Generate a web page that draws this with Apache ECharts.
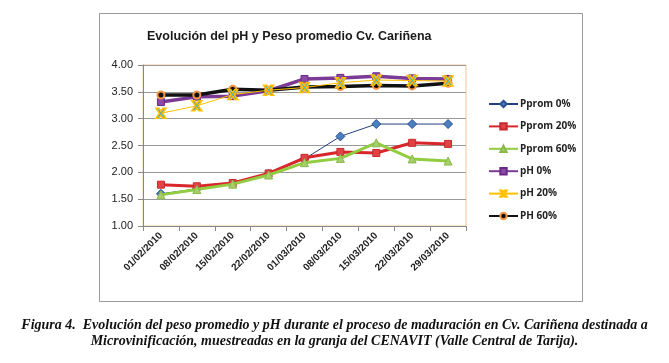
<!DOCTYPE html>
<html><head><meta charset="utf-8">
<script src="https://cdn.jsdelivr.net/npm/echarts@6/dist/echarts.min.js"></script>
<style>html,body{margin:0;padding:0;background:#fff}#c{width:669px;height:363px}</style>
</head><body><div id="c"></div>
<script>
const categories = ['01/02/2010','08/02/2010','15/02/2010','22/02/2010','01/03/2010','08/03/2010','15/03/2010','22/03/2010','29/03/2010'];
const pprom0  = [1.60, 1.69, 1.79, 1.97, 2.25, 2.67, 2.90, 2.90, 2.90];
const pprom20 = [1.77, 1.74, 1.80, 1.98, 2.27, 2.38, 2.36, 2.55, 2.53];
const pprom60 = [1.58, 1.68, 1.78, 1.95, 2.18, 2.26, 2.55, 2.25, 2.21];
const ph0     = [3.31, 3.41, 3.42, 3.52, 3.74, 3.76, 3.79, 3.75, 3.74];
const ph20    = [3.10, 3.24, 3.45, 3.53, 3.58, 3.67, 3.72, 3.71, 3.70];
const ph60    = [3.44, 3.44, 3.55, 3.53, 3.59, 3.60, 3.62, 3.61, 3.66];
const yTicks = { min: 1.0, max: 4.0, interval: 0.5 };
const titleText = 'Evolución del pH y Peso promedio Cv. Cariñena';
const captionLines = ['Figura 4.  Evolución del peso promedio y pH durante el proceso de maduración en Cv. Cariñena destinada a',
                      'Microvinificación, muestreadas en la granja del CENAVIT (Valle Central de Tarija).'];

const chart = echarts.init(document.getElementById('c'), null, {renderer:'canvas'});
const xPath = 'path://M0,0 L3,0 L5,3 L7,0 L10,0 L6.5,5 L10,10 L7,10 L5,7 L3,10 L0,10 L3.5,5 Z';
function s(name, data, lineColor, width, symbol, size, fill, border, bw, z) {
  return { name, type:'line', data, symbol, symbolSize:size, z,
    lineStyle:{color:lineColor, width},
    itemStyle:{color:fill, borderColor:border, borderWidth:bw},
    emphasis:{disabled:true}, animation:false };
}
chart.setOption({
  animation:false,
  title:{ text:titleText, left:142, top:25, textStyle:{fontFamily:'Liberation Sans', fontWeight:'bold', fontSize:12.5, color:'#1a1a1a'} },
  grid:{ left:143, top:65, right:203, bottom:137, show:true, borderColor:'#f0c890', borderWidth:1, backgroundColor:'transparent' },
  legend:{ orient:'vertical', left:483, top:93, itemGap:10.4, itemWidth:29, itemHeight:8,
    textStyle:{fontFamily:'Open Sans', fontWeight:'bold', fontSize:10, color:'#222', lineHeight:12, padding:[0,0,0,-3]},
    data:['Pprom 0%','Pprom 20%','Pprom 60%','pH 0%','pH 20%','PH 60%'] },
  xAxis:{ type:'category', data:categories, boundaryGap:true,
    axisLine:{lineStyle:{color:'#888'}}, axisTick:{show:true, length:5, lineStyle:{color:'#888'}},
    axisLabel:{rotate:45, interval:0, fontFamily:'Liberation Sans', fontSize:10, fontWeight:'bold', color:'#222', margin:8} },
  yAxis:{ type:'value', min:yTicks.min, max:yTicks.max, interval:yTicks.interval,
    axisLine:{show:true, lineStyle:{color:'#888'}}, axisTick:{show:true, length:5, lineStyle:{color:'#888'}},
    splitLine:{lineStyle:{color:'#999', width:1}},
    axisLabel:{formatter:v=>v.toFixed(2), fontFamily:'Liberation Sans', fontSize:11, color:'#222', margin:10} },
  series:[
    s('Pprom 0%', pprom0, '#243f7f', 1, 'diamond', 9, '#4a7fc0', '#2a4f8f', 1, 2),
    s('Pprom 20%', pprom20, '#d8262b', 3, 'rect', 7, '#e04346', '#c8282c', 1, 3),
    s('Pprom 60%', pprom60, '#92cc40', 3, 'triangle', 8, '#a6cf6a', '#8ab84a', 1, 4),
    s('pH 0%', ph0, '#7a3a96', 3.5, 'rect', 7, '#8a4aa6', '#6a2a86', 1, 3),
    s('pH 20%', ph20, '#ffc000', 1, xPath, 10, '#4bacc6', '#ffc000', 1.5, 5),
    s('PH 60%', ph60, '#111111', 3.5, 'circle', 7, '#111', '#f79646', 2, 4)
  ],
  graphic:[
    { type:'rect', shape:{x:99.5, y:13.5, width:483, height:288}, style:{fill:'none', stroke:'#999', lineWidth:1}, silent:true, z:-1 },
    { type:'text', left:'center', top:317, style:{ text:captionLines.join('\n'), font:'italic bold 14px "Liberation Serif"', fill:'#111', textAlign:'center', lineHeight:16 } }
  ]
});
</script></body></html>
